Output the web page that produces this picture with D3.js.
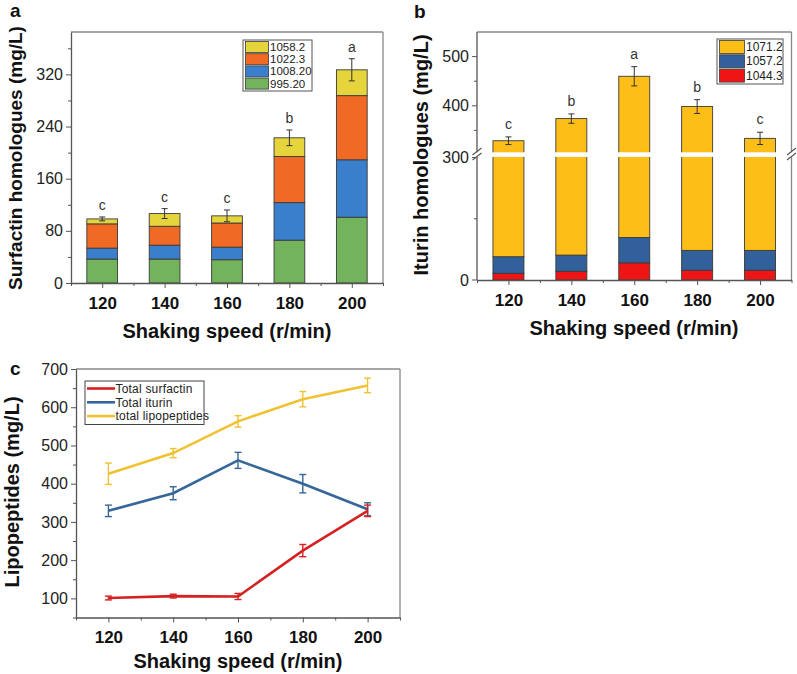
<!DOCTYPE html>
<html><head><meta charset="utf-8">
<script src="https://cdn.jsdelivr.net/npm/d3@7"></script>
<style>body{margin:0;background:#fff}svg{display:block;font-family:"Liberation Sans",Arial,sans-serif}</style>
</head><body><svg id="c" width="797" height="674"></svg>
<script>
// ---------- data ----------
const speeds = [120, 140, 160, 180, 200];
// panel a: surfactin homologue segments (bottom -> top)
const surfKeys = ["995.20", "1008.20", "1022.3", "1058.2"];
const surf995 = [36.7, 36.7, 35.7, 65.7, 100.9];
const surf1008 = [16.8, 21.3, 19.3, 57.6, 88.1];
const surf1022 = [37.2, 29.0, 37.0, 70.7, 98.4];
const surf1058 = [7.6, 19.5, 11.0, 28.7, 39.6];
const surfErr = [3, 7.6, 9, 12, 17];
const surfLetters = ["c", "c", "c", "b", "a"];
const surfTicks = [0, 80, 160, 240, 320];
// panel b: iturin homologue segments (bottom -> top)
const iturKeys = ["1044.3", "1057.2", "1071.2"];
const itur1044 = [16.5, 21.4, 42, 24, 24];
const itur1057 = [40.5, 39.6, 62, 48.5, 48.5];
const itur1071 = [272, 313, 356, 326, 261.3];
const iturErr = [7.8, 9.5, 19.6, 14, 12.5];
const iturLetters = ["c", "b", "a", "b", "c"];
const iturTicks = [0, 300, 400, 500];
// panel c: totals
const lineNames = ["Total surfactin", "Total iturin", "total lipopeptides"];
const totSurf = [101, 106, 105, 225, 329];
const totSurfErr = [5, 5, 8, 16, 15];
const totItur = [329, 375, 461, 400, 333];
const totIturErr = [15, 17, 21, 24, 17];
const totLipo = [426, 480, 563, 621, 657];
const totLipoErr = [28, 12, 15, 20, 19];
const lipoTicks = [100, 200, 300, 400, 500, 600, 700];

// ---------- helpers ----------
const svg = d3.select("#c");
const FONT = '"Liberation Sans",Arial,sans-serif';
const axisCol = "#555", frameCol = "#888";
const barStroke = "#3a3a3a";

function frame(g, x0, x1, y0, y1) {
  g.append("line").attr("x1", x0).attr("x2", x1).attr("y1", y0).attr("y2", y0).attr("stroke", frameCol).attr("stroke-width", 1.3);
  g.append("line").attr("x1", x1).attr("x2", x1).attr("y1", y0).attr("y2", y1).attr("stroke", frameCol).attr("stroke-width", 1.3);
}
function xAxis(g, x, y, yPos) {
  const ax = d3.axisBottom(x).tickValues(speeds).tickSize(5).tickSizeOuter(0).tickFormat(d3.format("d"));
  const ga = g.append("g").attr("transform", `translate(0,${yPos})`).call(ax);
  ga.select(".domain").attr("stroke", axisCol).attr("stroke-width", 1.3);
  ga.selectAll(".tick line").attr("stroke", axisCol);
  ga.selectAll(".tick text").attr("font-family", FONT).attr("font-size", 17).attr("font-weight", "bold").attr("fill", "#111").attr("dy", "1.05em");
  const minor = d3.axisBottom(x).tickValues([110, 130, 150, 170, 190, 210]).tickSize(3).tickFormat("");
  const gm = g.append("g").attr("transform", `translate(0,${yPos})`).call(minor);
  gm.select(".domain").remove();
  gm.selectAll(".tick line").attr("stroke", axisCol);
}
function styleY(ga, fs) {
  ga.select(".domain").attr("stroke", axisCol).attr("stroke-width", 1.3);
  ga.selectAll(".tick line").attr("stroke", axisCol);
  ga.selectAll(".tick text").attr("font-family", FONT).attr("font-size", fs).attr("fill", "#222");
}
function title(g, txt, x, y, rot, fs) {
  const t = g.append("text").attr("font-family", FONT).attr("font-weight", "bold").attr("font-size", fs || 20)
    .attr("text-anchor", "middle").attr("fill", "#111").text(txt);
  if (rot) t.attr("transform", `translate(${x},${y}) rotate(-90)`); else t.attr("x", x).attr("y", y);
}
function panelLabel(txt, x, y) {
  svg.append("text").attr("x", x).attr("y", y).attr("font-family", FONT).attr("font-weight", "bold").attr("font-size", 19).attr("fill", "#111").text(txt);
}

// ---------- panel a ----------
{
  const g = svg.append("g");
  const x = d3.scaleLinear().domain([110, 210]).range([71, 383]);
  const y = d3.scaleLinear().domain([0, 385]).range([283, 32]);
  const bw = x(119.85) - x(110);
  const cols = ["#72b35c", "#3a7fcc", "#f06a25", "#e6d43c"];
  const segs = [surf995, surf1008, surf1022, surf1058];
  const rows = speeds.map((s, i) => { const o = { s }; surfKeys.forEach((k, j) => o[k] = segs[j][i]); return o; });
  const stack = d3.stack().keys(surfKeys)(rows);
  stack.forEach((layer, j) => {
    g.selectAll(null).data(layer).enter().append("rect")
      .attr("x", d => x(d.data.s) - bw / 2).attr("width", bw)
      .attr("y", d => y(d[1])).attr("height", d => y(d[0]) - y(d[1]))
      .attr("fill", cols[j]).attr("stroke", barStroke).attr("stroke-width", 0.9);
  });
  const tot = speeds.map((s, i) => segs.reduce((a, arr) => a + arr[i], 0));
  speeds.forEach((s, i) => {
    const cx = x(s), t = tot[i], e = surfErr[i];
    g.append("line").attr("x1", cx).attr("x2", cx).attr("y1", y(t - e)).attr("y2", y(t + e)).attr("stroke", "#333").attr("stroke-width", 1);
    [t - e, t + e].forEach(v => g.append("line").attr("x1", cx - 3).attr("x2", cx + 3).attr("y1", y(v)).attr("y2", y(v)).attr("stroke", "#333").attr("stroke-width", 1));
    g.append("text").attr("x", cx).attr("y", y(t + e) - 7).attr("text-anchor", "middle").attr("font-family", FONT).attr("font-size", 14).attr("fill", "#333").text(surfLetters[i]);
  });
  frame(g, 71, 383, 32, 283);
  xAxis(g, x, y, 283);
  const ya = g.append("g").attr("transform", "translate(71,0)").call(d3.axisLeft(y).tickValues(surfTicks).tickSize(5).tickSizeOuter(0));
  styleY(ya, 16);
  const ym = g.append("g").attr("transform", "translate(71,0)").call(d3.axisLeft(y).tickValues([40, 120, 200, 280, 360]).tickSize(3).tickFormat(""));
  ym.select(".domain").remove(); ym.selectAll(".tick line").attr("stroke", axisCol);
  title(g, "Shaking speed (r/min)", 227, 338, false);
  title(g, "Surfactin homologues (mg/L)", 22, 158, true, 19);
  // legend
  const lg = g.append("g");
  lg.append("rect").attr("x", 243).attr("y", 40).attr("width", 69).attr("height", 51).attr("fill", "#fff").attr("stroke", "#555").attr("stroke-width", 1);
  const order = [3, 2, 1, 0];
  order.forEach((j, r) => {
    const yy = 41.5 + r * 12.2;
    lg.append("rect").attr("x", 245.5).attr("y", yy).attr("width", 23).attr("height", 11).attr("fill", cols[j]).attr("stroke", barStroke).attr("stroke-width", 0.8);
    lg.append("text").attr("x", 270).attr("y", yy + 9.5).attr("font-family", FONT).attr("font-size", 11.5).attr("fill", "#222").text(surfKeys[j]);
  });
}

// ---------- panel b ----------
{
  const g = svg.append("g");
  const x = d3.scaleLinear().domain([110, 210]).range([477, 791.5]);
  const yLow = d3.scaleLinear().domain([0, 300]).range([280, 157.5]);
  const yHigh = d3.scaleLinear().domain([300, 550]).range([155, 32]);
  const y = v => (v <= 300 ? yLow(v) : yHigh(v));
  const bw = x(119.85) - x(110);
  const cols = ["#f01515", "#31609a", "#fdbf17"];
  const segs = [itur1044, itur1057, itur1071];
  const rows = speeds.map((s, i) => { const o = { s }; iturKeys.forEach((k, j) => o[k] = segs[j][i]); return o; });
  const stack = d3.stack().keys(iturKeys)(rows);
  stack.forEach((layer, j) => {
    g.selectAll(null).data(layer).enter().append("rect")
      .attr("x", d => x(d.data.s) - bw / 2).attr("width", bw)
      .attr("y", d => y(d[1])).attr("height", d => y(d[0]) - y(d[1]))
      .attr("fill", cols[j]).attr("stroke", barStroke).attr("stroke-width", 0.9);
  });
  const tot = speeds.map((s, i) => segs.reduce((a, arr) => a + arr[i], 0));
  speeds.forEach((s, i) => {
    const cx = x(s), t = tot[i], e = iturErr[i];
    g.append("line").attr("x1", cx).attr("x2", cx).attr("y1", y(t - e)).attr("y2", y(t + e)).attr("stroke", "#333").attr("stroke-width", 1);
    [t - e, t + e].forEach(v => g.append("line").attr("x1", cx - 3).attr("x2", cx + 3).attr("y1", y(v)).attr("y2", y(v)).attr("stroke", "#333").attr("stroke-width", 1));
    g.append("text").attr("x", cx).attr("y", y(t + e) - 8).attr("text-anchor", "middle").attr("font-family", FONT).attr("font-size", 14).attr("fill", "#333").text(iturLetters[i]);
  });
  frame(g, 477, 791.5, 32, 280);
  xAxis(g, x, y, 280);
  // left axis: two segments
  g.append("line").attr("x1", 477).attr("x2", 477).attr("y1", 32).attr("y2", 280).attr("stroke", axisCol).attr("stroke-width", 1.3);
  iturTicks.forEach(v => {
    g.append("line").attr("x1", 472).attr("x2", 477).attr("y1", y(v)).attr("y2", y(v)).attr("stroke", axisCol);
    g.append("text").attr("x", 469).attr("y", y(v)).attr("dy", "0.35em").attr("text-anchor", "end").attr("font-family", FONT).attr("font-size", 16).attr("fill", "#222").text(v);
  });
  [150, 350, 450].forEach(v => g.append("line").attr("x1", 474).attr("x2", 477).attr("y1", y(v)).attr("y2", y(v)).attr("stroke", axisCol));
  // break band
  g.append("rect").attr("x", 470).attr("y", 152.3).attr("width", 330).attr("height", 4.6).attr("fill", "#fff");
  [[477], [791.5]].forEach(([ax]) => {
    [151.5, 156.5].forEach(yy => g.append("line").attr("x1", ax - 4.5).attr("x2", ax + 4.5).attr("y1", yy + 3.5).attr("y2", yy - 3.5).attr("stroke", "#555").attr("stroke-width", 1.1));
  });
  title(g, "Shaking speed (r/min)", 634, 335, false);
  title(g, "Iturin homologues (mg/L)", 428, 155, true);
  const lg = g.append("g");
  lg.append("rect").attr("x", 717).attr("y", 39).attr("width", 66).attr("height", 45).attr("fill", "#fff").attr("stroke", "#555").attr("stroke-width", 1);
  [2, 1, 0].forEach((j, r) => {
    const yy = 40.5 + r * 14.3;
    lg.append("rect").attr("x", 719.5).attr("y", yy).attr("width", 25).attr("height", 13).attr("fill", cols[j]).attr("stroke", barStroke).attr("stroke-width", 0.8);
    lg.append("text").attr("x", 746).attr("y", yy + 10.5).attr("font-family", FONT).attr("font-size", 12).attr("fill", "#222").text(iturKeys[j]);
  });
}

// ---------- panel c ----------
{
  const g = svg.append("g");
  const x = d3.scaleLinear().domain([110, 210]).range([76, 400]);
  const y = d3.scaleLinear().domain([50, 700]).range([617.5, 369]);
  const series = [
    { name: lineNames[0], v: totSurf, e: totSurfErr, c: "#d42222" },
    { name: lineNames[1], v: totItur, e: totIturErr, c: "#36679a" },
    { name: lineNames[2], v: totLipo, e: totLipoErr, c: "#f0c232" }
  ];
  const line = d3.line().x((d, i) => x(speeds[i])).y(d => y(d));
  series.slice().reverse().forEach(s => {
    g.append("path").datum(s.v).attr("d", line).attr("fill", "none").attr("stroke", s.c).attr("stroke-width", 2.6);
    speeds.forEach((sp, i) => {
      const cx = x(sp), v = s.v[i], e = s.e[i];
      g.append("line").attr("x1", cx).attr("x2", cx).attr("y1", y(v - e)).attr("y2", y(v + e)).attr("stroke", s.c).attr("stroke-width", 1.4);
      [v - e, v + e].forEach(w => g.append("line").attr("x1", cx - 3.5).attr("x2", cx + 3.5).attr("y1", y(w)).attr("y2", y(w)).attr("stroke", s.c).attr("stroke-width", 1.4));
    });
  });
  frame(g, 76, 400, 369, 617.5);
  xAxis(g, x, y, 617.5);
  const ya = g.append("g").attr("transform", "translate(76,0)").call(d3.axisLeft(y).tickValues(lipoTicks).tickSize(5).tickSizeOuter(0));
  styleY(ya, 16);
  const ym = g.append("g").attr("transform", "translate(76,0)").call(d3.axisLeft(y).tickValues([50, 150, 250, 350, 450, 550, 650]).tickSize(3).tickFormat(""));
  ym.select(".domain").remove(); ym.selectAll(".tick line").attr("stroke", axisCol);
  title(g, "Shaking speed (r/min)", 238, 668, false);
  title(g, "Lipopeptides (mg/L)", 19, 492, true);
  const lg = g.append("g");
  lg.append("rect").attr("x", 85).attr("y", 381).attr("width", 119).attr("height", 43.5).attr("fill", "#fff").attr("stroke", "#444").attr("stroke-width", 1);
  series.forEach((s, r) => {
    const yy = 388.5 + r * 13.8;
    lg.append("line").attr("x1", 87).attr("x2", 115).attr("y1", yy).attr("y2", yy).attr("stroke", s.c).attr("stroke-width", 2.6);
    lg.append("text").attr("x", 115.5).attr("y", yy + 4.3).attr("font-family", FONT).attr("font-size", 12).attr("letter-spacing", "0.2").attr("fill", "#222").text(s.name);
  });
}

panelLabel("a", 10, 17);
panelLabel("b", 414, 18);
panelLabel("c", 10, 375);
</script></body></html>
